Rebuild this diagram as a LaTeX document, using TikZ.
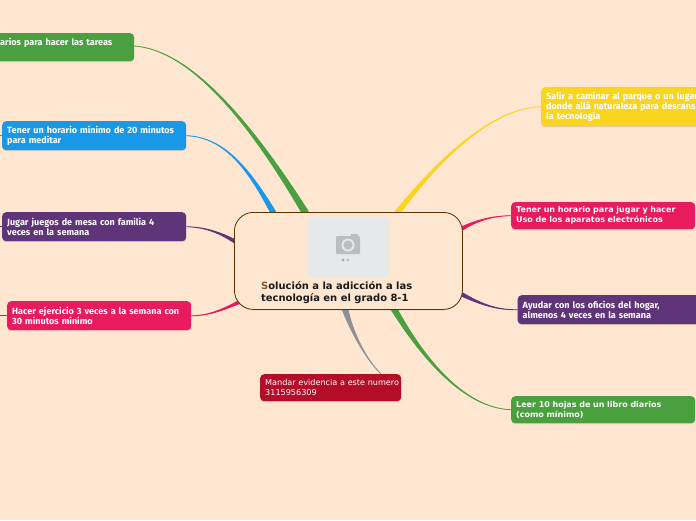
\documentclass[tikz,border=0pt]{standalone}
\usepackage{fontspec}
\usetikzlibrary{calc,shadows}
\newfontfamily\rootfont{DejaVu Sans}
\newfontfamily\leftfont{Fira Sans}
\definecolor{bgc}{HTML}{FEE6D0}
\definecolor{gr}{HTML}{4AA03F}
\definecolor{bl}{HTML}{1A98E8}
\definecolor{pu}{HTML}{5F3478}
\definecolor{pk}{HTML}{E81B5E}
\definecolor{rd}{HTML}{B40C29}
\definecolor{ye}{HTML}{FBD41F}
\definecolor{gy}{HTML}{8F9096}
\definecolor{br}{HTML}{5F3000}
\definecolor{ph}{HTML}{E6E8EA}
\definecolor{cam}{HTML}{BCBDBF}
\pgfdeclarelayer{lines}
\pgfsetlayers{lines,main}
\tikzset{
  box/.style={rounded corners=4pt,anchor=north west,align=left,inner xsep=5pt,inner ysep=0pt,
    text=white,draw=none,drop shadow={shadow xshift=0pt,shadow yshift=-1pt,opacity=.25}},
  fb/.style={font=\leftfont\bfseries\fontsize{9.05}{10}\selectfont},
  db/.style={font=\rootfont\bfseries\fontsize{8}{10}\selectfont},
  dr/.style={font=\rootfont\fontsize{8.1}{10}\selectfont},
  tick/.style={line width=.6pt}
}
\newcommand\taper[7]{\filldraw[#1,line width=.8pt] (#2) .. controls (#3) and (#4) .. ($(#5)+(#6,#7)$) -- ($(#5)-(#6,#7)$) .. controls ($(#4)-(#6*.6,#7*.6)$) and ($(#3)-(#6*.1,#7*.1)$) .. (#2);}
\begin{document}
\begin{tikzpicture}[x=1pt,y=-1pt]
\useasboundingbox (0,0) rectangle (696,520);
\clip (0,0) rectangle (696,520);
\begin{pgfonlayer}{lines}
\fill[bgc] (0,0) rectangle (696,520);
\end{pgfonlayer}
% root
\node[anchor=north west,draw=br,line width=.8pt,fill=bgc,rounded corners=19pt,minimum width=228pt,minimum height=97pt,
  drop shadow={shadow xshift=0pt,shadow yshift=-1pt,opacity=.25},inner sep=0pt] (root) at (234,212) {};
\node[anchor=north west,fill=ph,rounded corners=5pt,minimum width=81pt,minimum height=61pt,inner sep=0pt] (img) at (308,217) {};
\node[anchor=north west,inner sep=0pt,align=left,text=black!90,font=\rootfont\bfseries\fontsize{9.95}{12}\selectfont] (rootlabel) at (261,281.5)
  {\textcolor{br!80!white}{S}olución a la adicción a las\\tecnología en el grado 8-1};
% camera icon
\fill[cam,rounded corners=1pt] (336,236) rectangle (360,254);
\fill[cam] (351,234) rectangle (357.5,237);
\fill[ph] (348,245) circle (6.5);
\fill[cam] (348,245) circle (4.6);
\fill[cam!90!black] (343,260) circle (1.6);
\fill[cam] (348,260) circle (1.6);
\fill[ph!90!cam] (353,260) circle (1.6);
% topics
\node[box,fb,fill=gr,minimum width=194pt,minimum height=28pt,text width=184pt] (n1) at (-60,33)
  {\hspace*{55pt}arios para hacer las tareas\\\mbox{}};
\node[box,fb,fill=bl,minimum width=184pt,minimum height=29pt,text width=174pt] (n2) at (2,121)
  {Tener un horario mínimo de 20 minutos\\para meditar};
\node[box,fb,fill=pu,minimum width=184pt,minimum height=29pt,text width=174pt] (n3) at (2,212)
  {Jugar juegos de mesa con familia 4\\veces en la semana};
\node[box,fb,fill=pk,minimum width=184pt,minimum height=29pt,text width=174pt] (n4) at (7,301)
  {Hacer ejercicio 3 veces a la semana con\\30 minutos mínimo};
\node[box,dr,fill=rd,minimum width=141pt,minimum height=27pt,text width=131pt] (n5) at (260,374)
  {\mbox{Mandar evidencia a este numero}\\3115956309};
\node[box,fb,fill=ye,minimum width=184pt,minimum height=39pt,text width=174pt] (n6) at (541,87)
  {Salir a caminar al parque o un lugar\\donde allá naturaleza para descans\\la tecnología};
\node[box,db,fill=pk,minimum width=184pt,minimum height=27pt,text width=174pt] (n7) at (511,202)
  {Tener un horario para jugar y hacer\\Uso de los aparatos electrónicos};
\node[box,fb,fill=pu,minimum width=184pt,minimum height=29pt,text width=174pt] (n8) at (517.5,295)
  {Ayudar con los oficios del hogar,\\almenos 4 veces en la semana};
\node[box,db,fill=gr,minimum width=184pt,minimum height=27pt,text width=174pt] (n9) at (511,396)
  {Leer 10 hojas de un libro diarios\\(como mínimo)};
% connector ends
\coordinate (e1) at ($(root.north west)+(71,0)$);
\coordinate (e2) at ($(root.north west)+(39,0)$);
\coordinate (e3) at ($(root.north west)+(2,30)$);
\coordinate (e4) at ($(root.north west)+(8,89)$);
\coordinate (e5) at ($(root.north west)+(111,97)$);
\coordinate (e6) at ($(root.north west)+(164,0)$);
\coordinate (e7) at ($(root.north west)+(227,17)$);
\coordinate (e8) at ($(root.north west)+(227,82)$);
\coordinate (e9) at ($(root.north west)+(160,97)$);
\coordinate (g1) at ($(n1.north east)+(0,13)$);
\coordinate (y6) at ($(n6.west)+(0,0)$);
\coordinate (t2) at ($(n2.west)+(-2,0)$);
\coordinate (t3) at ($(n3.west)+(-2,0)$);
\coordinate (t4) at ($(n4.west)+(-7,0)$);
\coordinate (g5) at ($(n5.north west)+(121,0)$);
\begin{pgfonlayer}{lines}
\taper{gr}{g1}{190,50}{250,120}{e1}{3.2}{-.8}
\taper{bl}{n2.east}{225,137}{250,170}{e2}{2.4}{-.8}
\taper{pu}{n3.east}{205,227}{220,232}{e3}{.8}{-1.5}
\taper{pk}{n4.east}{210,316}{225,309}{e4}{.8}{1.5}
\taper{gy}{g5}{365,358}{352,330}{e5}{2.8}{-.6}
\taper{ye}{y6}{490,108}{435,165}{e6}{2.6}{.8}
\taper{pk}{n7.west}{490,216}{475,222}{e7}{.8}{1.6}
\taper{pu}{n8.west}{495,310}{480,303}{e8}{.8}{-1.6}
\taper{gr}{n9.west}{465,408}{425,360}{e9}{2.8}{-.8}
\draw[bl,tick] (n2.west) -- (t2);
\draw[pu,tick] (n3.west) -- (t3);
\draw[pk,tick] (n4.west) -- (t4);
\end{pgfonlayer}
\end{tikzpicture}
\end{document}
